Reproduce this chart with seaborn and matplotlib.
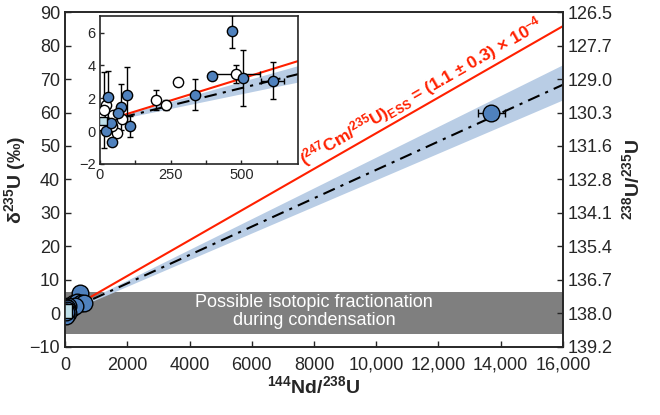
import matplotlib
matplotlib.use('Agg')
import numpy as np
import pandas as pd
import matplotlib.pyplot as plt
import seaborn as sns

# filled blue points (x = 144Nd/238U, y = delta235U)
blue_x = [467, 397, 507, 610, 336, 96, 29, 73, 62, 106, 20, 41, 40, 13700]
blue_y = [6.07, 3.38, 3.22, 3.08, 2.22, 2.18, 2.06, 1.48, 1.12, 0.28, -0.02, -0.68, 0.5, 59.9]
blue_yerr = [1.0, 0, 1.7, 1.1, 0.93, 1.7, 1.6, 1.4, 0, 0.66, 0, 0, 0, 0]
blue_xerr = [0, 0, 0, 40, 0, 0, 0, 0, 0, 0, 0, 0, 0, 440]

# open circles
open_x = [481, 277, 197, 233, 0, 3, 59, 21, 77, 41, 45, 15]
open_y = [3.5, 2.98, 1.88, 1.58, 1.02, 0.38, -0.14, 1.62, 0.72, 0.32, 1.0, 1.3]
open_yerr = [0.55, 0, 0.6, 0.3, 0, 0, 0, 0, 0, 0, 0, 2.3]
open_xerr = [85, 0, 0, 0, 0, 0, 0, 0, 0, 0, 0, 0]

# light blue square
sq_x = [12]
sq_y = [0.6]

# red reference line and fitted dash-dot line with its band
red_x = [80, 16000]
red_y = [0.96, 85.8]
fit_x = [80, 16000]
fit_y = [0.84, 68.3]
band_x = [80, 700, 16000]
band_lo = [0.74, 2.95, 63.8]
band_hi = [0.94, 3.95, 74.3]

# gray zone
gray_lo, gray_hi = -6, 6.5

left_ticks = [-10, 0, 10, 20, 30, 40, 50, 60, 70, 80, 90]
right_labels = ['139.2', '138.0', '136.7', '135.4', '134.1', '132.8',
                '131.6', '130.3', '129.0', '127.7', '126.5']
x_ticks = [0, 2000, 4000, 6000, 8000, 10000, 12000, 14000, 16000]
x_labels = ['0', '2000', '4000', '6000', '8000', '10,000', '12,000', '14,000', '16,000']

sns.set_style('ticks')
plt.rcParams['font.family'] = ['Liberation Sans', 'DejaVu Sans']
plt.rcParams['mathtext.fontset'] = 'custom'
plt.rcParams['mathtext.rm'] = 'Liberation Sans'
plt.rcParams['mathtext.bf'] = 'Liberation Sans:bold'
plt.rcParams['mathtext.it'] = 'Liberation Sans:italic'

BLUE = '#4f81bd'
BAND = '#b9cde5'
RED = '#ff2000'

blue_df = pd.DataFrame({'x': blue_x, 'y': blue_y})
open_df = pd.DataFrame({'x': open_x, 'y': open_y})
sq_df = pd.DataFrame({'x': sq_x, 'y': sq_y})


def draw(ax, ms, lw, cap):
    ax.fill_between(band_x, band_lo, band_hi, color=BAND, lw=0, zorder=1)
    sns.lineplot(x=red_x, y=red_y, ax=ax, color=RED, lw=lw, zorder=2)
    sns.lineplot(x=fit_x, y=fit_y, ax=ax, color='black', lw=lw,
                 dashes=False, zorder=2).lines[-1].set_dashes([6, 3, 1.5, 3])
    ax.errorbar(open_x, open_y, yerr=open_yerr, xerr=open_xerr, fmt='none',
                ecolor='black', elinewidth=1, capsize=cap, zorder=3)
    ax.errorbar(blue_x, blue_y, yerr=blue_yerr, xerr=blue_xerr, fmt='none',
                ecolor='black', elinewidth=1, capsize=cap, zorder=3)
    sns.scatterplot(data=open_df, x='x', y='y', ax=ax, s=ms ** 2, color='white',
                    edgecolor='black', linewidth=1, zorder=4, legend=False)
    sns.scatterplot(data=blue_df, x='x', y='y', ax=ax, s=ms ** 2, color=BLUE,
                    edgecolor='black', linewidth=1, zorder=5, legend=False)
    sns.scatterplot(data=sq_df, x='x', y='y', ax=ax, s=(ms * 0.85) ** 2, marker='s',
                    color='#bfe0ea', edgecolor='black', linewidth=1, zorder=6, legend=False)


fig = plt.figure(figsize=(6.6, 4.15), dpi=100)
ax = fig.add_axes([0.0985, 0.164, 0.7545, 0.807])
ax.axhspan(gray_lo, gray_hi, color='#7f7f7f', lw=0, zorder=0)
draw(ax, 12, 1.5, 3)
ax.set_xlim(0, 16000)
ax.set_ylim(-10, 90)
ax.set_xticks(x_ticks)
ax.set_xticklabels(x_labels)
ax.set_yticks(left_ticks)
ax.tick_params(direction='in', length=4, width=1, labelsize=13)
ax.tick_params(axis='x', pad=7)
ax.set_xlabel(r'$\mathbf{^{144}}$Nd/$\mathbf{^{238}}$U', fontsize=14, fontweight='bold')
ax.xaxis.set_label_coords(0.5, -0.085)
ax.set_ylabel(r'δ$\mathbf{^{235}}$U (‰)', fontsize=14, fontweight='bold')
ax.yaxis.set_label_coords(-0.075, 0.5)
for sp in ax.spines.values():
    sp.set_linewidth(1.2)
ax.text(8000, 0.6, 'Possible isotopic fractionation\nduring condensation', color='white',
        fontsize=13, ha='center', va='center', linespacing=1.1, zorder=1)
ax.text(11450, 66.3,
        r'($\mathbf{^{247}}$Cm/$\mathbf{^{235}}$U)$\mathbf{_{ESS}}$ = (1.1 ± 0.3) × 10$\mathbf{^{-4}}$',
        color=RED, fontsize=12.5, fontweight='bold', ha='center', va='center',
        rotation=30, rotation_mode='anchor')

ax2 = ax.twinx()
ax2.set_ylim(-10, 90)
ax2.set_yticks(left_ticks)
ax2.set_yticklabels(right_labels)
ax2.tick_params(direction='in', length=4, width=1, labelsize=13)
ax2.set_ylabel(r'$\mathbf{^{238}}$U/$\mathbf{^{235}}$U', fontsize=14, fontweight='bold', labelpad=6)
for sp in ax2.spines.values():
    sp.set_linewidth(1.2)

ins = fig.add_axes([0.1515, 0.605, 0.30, 0.356])
draw(ins, 7.4, 1.5, 2.5)
ins.set_xlim(0, 700)
ins.set_ylim(-2, 7)
ins.set_xticks([0, 125, 250, 375, 500, 625])
ins.set_xticklabels(['0', '', '250', '', '500', ''])
ins.set_yticks([-2, 0, 2, 4, 6])
ins.set_yticklabels(['\u22122', '0', '2', '4', '6'])
ins.tick_params(direction='in', length=3, width=1, labelsize=10.5, pad=3)
ins.set_xlabel('')
ins.set_ylabel('')
for sp in ins.spines.values():
    sp.set_linewidth(1.2)

fig.savefig('out.png', dpi=100)
